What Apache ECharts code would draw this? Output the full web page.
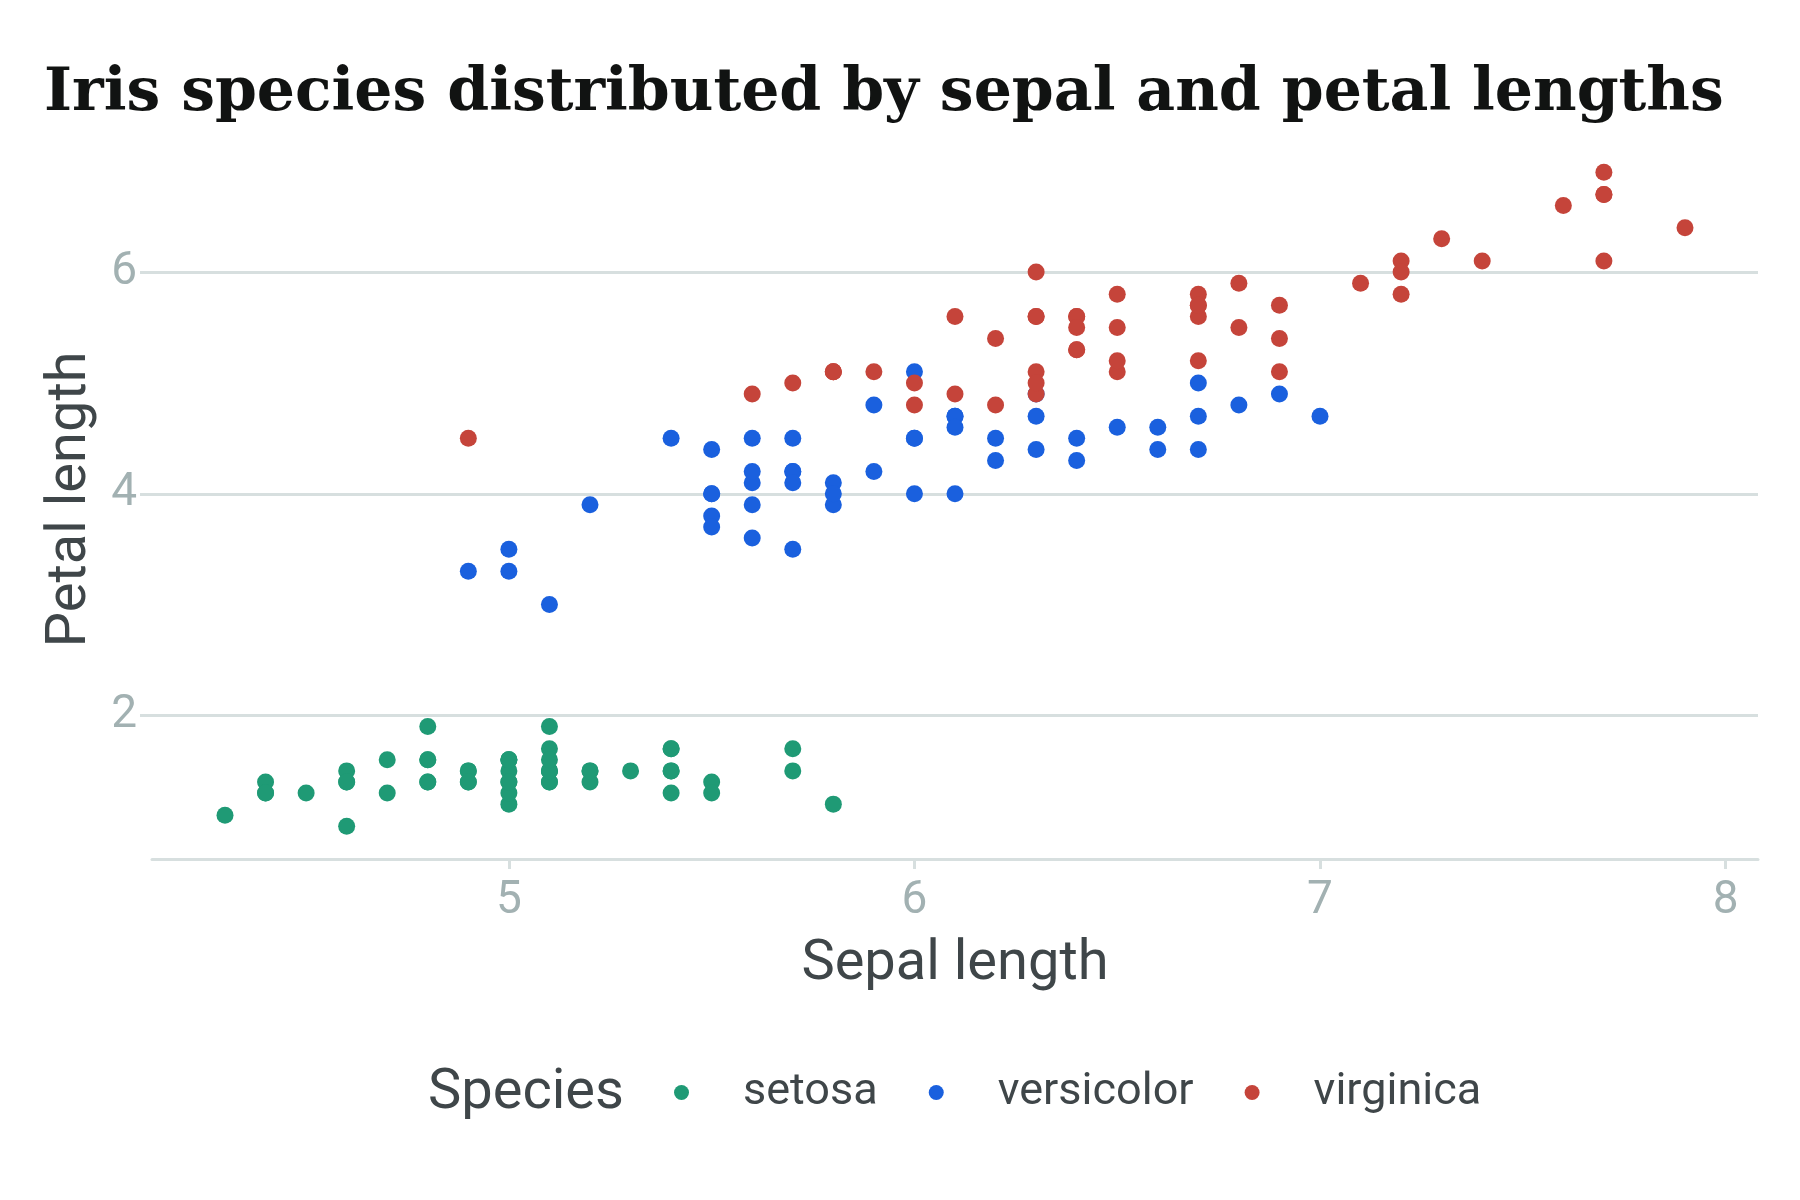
<!DOCTYPE html>
<html>
<head>
<meta charset="utf-8">
<script src="https://cdn.jsdelivr.net/npm/echarts@6/dist/echarts.min.js"></script>
<style>
  html, body { margin: 0; padding: 0; background: #fff; }
  #chart { width: 1800px; height: 1200px; }
</style>
</head>
<body>
<div id="chart"></div>
<script>
// iris: [sepal length, petal length]
var setosa = [
  [5.1,1.4],[4.9,1.4],[4.7,1.3],[4.6,1.5],[5.0,1.4],[5.4,1.7],[4.6,1.4],[5.0,1.5],[4.4,1.4],[4.9,1.5],
  [5.4,1.5],[4.8,1.6],[4.8,1.4],[4.3,1.1],[5.8,1.2],[5.7,1.5],[5.4,1.3],[5.1,1.4],[5.7,1.7],[5.1,1.5],
  [5.4,1.7],[5.1,1.5],[4.6,1.0],[5.1,1.7],[4.8,1.9],[5.0,1.6],[5.0,1.6],[5.2,1.5],[5.2,1.4],[4.7,1.6],
  [4.8,1.6],[5.4,1.5],[5.2,1.5],[5.5,1.4],[4.9,1.5],[5.0,1.2],[5.5,1.3],[4.9,1.4],[4.4,1.3],[5.1,1.5],
  [5.0,1.3],[4.5,1.3],[4.4,1.3],[5.0,1.6],[5.1,1.9],[4.8,1.4],[5.1,1.6],[4.6,1.4],[5.3,1.5],[5.0,1.4]
];
var versicolor = [
  [7.0,4.7],[6.4,4.5],[6.9,4.9],[5.5,4.0],[6.5,4.6],[5.7,4.5],[6.3,4.7],[4.9,3.3],[6.6,4.6],[5.2,3.9],
  [5.0,3.5],[5.9,4.2],[6.0,4.0],[6.1,4.7],[5.6,3.6],[6.7,4.4],[5.6,4.5],[5.8,4.1],[6.2,4.5],[5.6,3.9],
  [5.9,4.8],[6.1,4.0],[6.3,4.9],[6.1,4.7],[6.4,4.3],[6.6,4.4],[6.8,4.8],[6.7,5.0],[6.0,4.5],[5.7,3.5],
  [5.5,3.8],[5.5,3.7],[5.8,3.9],[6.0,5.1],[5.4,4.5],[6.0,4.5],[6.7,4.7],[6.3,4.4],[5.6,4.1],[5.5,4.0],
  [5.5,4.4],[6.1,4.6],[5.8,4.0],[5.0,3.3],[5.6,4.2],[5.7,4.2],[5.7,4.2],[6.2,4.3],[5.1,3.0],[5.7,4.1]
];
var virginica = [
  [6.3,6.0],[5.8,5.1],[7.1,5.9],[6.3,5.6],[6.5,5.8],[7.6,6.6],[4.9,4.5],[7.3,6.3],[6.7,5.8],[7.2,6.1],
  [6.5,5.1],[6.4,5.3],[6.8,5.5],[5.7,5.0],[5.8,5.1],[6.4,5.3],[6.5,5.5],[7.7,6.7],[7.7,6.9],[6.0,5.0],
  [6.9,5.7],[5.6,4.9],[7.7,6.7],[6.3,4.9],[6.7,5.7],[7.2,6.0],[6.2,4.8],[6.1,4.9],[6.4,5.6],[7.2,5.8],
  [7.4,6.1],[7.9,6.4],[6.4,5.6],[6.3,5.1],[6.1,5.6],[7.7,6.1],[6.3,5.6],[6.4,5.5],[6.0,4.8],[6.9,5.4],
  [6.7,5.6],[6.9,5.1],[5.8,5.1],[6.8,5.9],[6.7,5.7],[6.7,5.2],[6.3,5.0],[6.5,5.2],[6.2,5.4],[5.9,5.1]
];
var speciesNames = ['setosa', 'versicolor', 'virginica'];
var speciesColors = ['#1f9a75', '#1a60de', '#c5443a'];
var xTicks = [5, 6, 7, 8];
var yTicks = [2, 4, 6];
var xRange = [4.12, 8.08];
var yRange = [0.705, 7.195];

var gridColor = '#d7dfdf';
var tickText = '#a2b1b2';
var labelText = '#3f4649';

var chart = echarts.init(document.getElementById('chart'), null, {renderer: 'canvas'});

var seriesData = [setosa, versicolor, virginica];
var series = speciesNames.map(function (name, i) {
  return {
    name: name,
    type: 'scatter',
    data: seriesData[i],
    symbol: 'circle',
    symbolSize: 17,
    itemStyle: {color: speciesColors[i], opacity: 1},
    emphasis: {disabled: true},
    animation: false
  };
});

chart.setOption({
  backgroundColor: '#ffffff',
  animation: false,
  title: [{
    text: 'Iris species distributed by sepal and petal lengths',
    left: 44,
    top: 64,
    padding: 0,
    textStyle: {
      fontFamily: 'DejaVu Serif',
      fontWeight: 'bold',
      fontSize: 60,
      color: '#111312'
    }
  }, {
    text: 'Species',
    left: 428,
    top: 1066,
    padding: 0,
    textStyle: {
      fontFamily: 'Roboto',
      fontWeight: 'normal',
      fontSize: 56,
      color: labelText
    }
  }],
  legend: {
    data: speciesNames,
    left: 674,
    top: 1070,
    padding: 0,
    orient: 'horizontal',
    icon: 'circle',
    itemWidth: 15,
    itemHeight: 15,
    itemGap: 51,
    selectedMode: false,
    textStyle: {
      fontFamily: 'Roboto',
      fontSize: 45,
      color: labelText,
      padding: [0, 0, 0, 49]
    }
  },
  grid: {
    left: 152,
    right: 42,
    top: 139.6,
    bottom: 341,
    containLabel: false
  },
  xAxis: {
    type: 'value',
    min: xRange[0],
    max: xRange[1],
    name: 'Sepal length',
    nameLocation: 'middle',
    nameGap: 78,
    nameTextStyle: {fontFamily: 'Roboto', fontSize: 56, color: labelText},
    axisLine: {show: true, lineStyle: {color: gridColor, width: 3}},
    axisTick: {show: true, length: 10, customValues: xTicks, lineStyle: {color: gridColor, width: 3}},
    axisLabel: {
      customValues: xTicks,
      margin: 19,
      fontFamily: 'Roboto',
      fontSize: 46,
      color: tickText
    },
    splitLine: {show: false}
  },
  yAxis: {
    type: 'value',
    min: yRange[0],
    max: yRange[1],
    name: 'Petal length',
    nameLocation: 'middle',
    nameRotate: 90,
    nameGap: 53,
    nameTextStyle: {fontFamily: 'Roboto', fontSize: 56, color: labelText},
    axisLine: {show: false},
    axisTick: {show: true, length: 12, customValues: yTicks, lineStyle: {color: gridColor, width: 3}},
    axisLabel: {
      customValues: yTicks,
      margin: 15,
      fontFamily: 'Roboto',
      fontSize: 46,
      color: tickText
    },
    splitLine: {show: true, lineStyle: {color: gridColor, width: 3}}
  },
  series: series
});
</script>
</body>
</html>
